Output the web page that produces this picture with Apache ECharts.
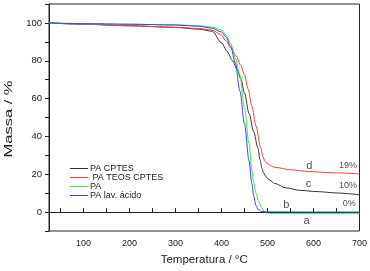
<!DOCTYPE html>
<html>
<head>
<meta charset="utf-8">
<script src="https://cdn.jsdelivr.net/npm/echarts@6/dist/echarts.min.js"></script>
<style>
  html, body { margin: 0; padding: 0; background: #fff; }
  #chart { width: 370px; height: 271px; }
</style>
</head>
<body>
<div id="chart"></div>
<script>
// temperatura (°C) / massa (%), one pair of arrays per sample
var cptesT = [25, 100, 200, 300, 350, 380, 400, 412, 424, 434, 442, 450, 460, 470, 479, 484, 488, 492, 497, 505, 515, 540, 570, 610, 650, 700];
var cptesM = [100, 99.3, 98.5, 97.6, 96.7, 95.6, 89.5, 85, 80, 75.5, 70.5, 63, 52, 42.5, 34, 27.5, 23, 20.5, 18.6, 16.8, 15.2, 12.8, 11.5, 10.8, 10.1, 9.2];

var teosT = [25, 100, 200, 300, 350, 380, 400, 410, 420, 432, 442, 450, 458, 466, 475, 485, 490, 495, 501, 515, 550, 590, 640, 700];
var teosM = [100, 99.3, 98.5, 97.7, 97.1, 96.2, 93.5, 90.4, 87, 82.5, 77.5, 72.5, 65, 56, 45.5, 34.2, 29.2, 26.8, 25.3, 23.7, 22.4, 21.4, 20.8, 20.2];

var paT = [25, 100, 200, 300, 350, 380, 400, 410, 420, 430, 440, 450, 460, 466, 470, 475, 480, 486, 492, 498, 510, 700];
var paM = [100, 99.6, 99.3, 98.9, 98.5, 97.8, 96.3, 93.5, 89, 81.5, 72.5, 55, 36, 22, 15.5, 10, 6.2, 2.6, 0.6, -0.5, -0.8, -0.9];

var acidoT = [25, 100, 200, 300, 350, 380, 400, 410, 420, 430, 440, 450, 460, 466, 470, 475, 480, 487, 500, 600, 700];
var acidoM = [100, 99.6, 99.3, 98.9, 98.3, 97.2, 95.2, 92.5, 87.5, 79, 64, 46.5, 27, 15, 8.5, 3.5, 1.3, 0.3, 0.1, 0, 0];

var names = ["PA CPTES", " PA TEOS CPTES", "PA", "PA lav. ácido"];

// curve labels and residue values
var noteText = ["d", "19%", "c", "10%", "b", "0%", "a"];
var noteT = [591, 675, 589, 675, 541, 678, 585];
var noteM = [24.2, 24.6, 14.7, 14.2, 4, 4.7, -4.6];

function pairs(t, m) {
  return t.map(function (v, i) { return [v, m[i]]; });
}

var font = "Liberation Sans, Arial, sans-serif";
var chart = echarts.init(document.getElementById("chart"));

var lineSeries = function (name, t, m, color) {
  return {
    name: name,
    type: "line",
    data: pairs(t, m),
    symbol: "none",
    smooth: 0.3,
    smoothMonotone: "x",
    lineStyle: { color: color, width: 1 },
    itemStyle: { color: color },
    animation: false
  };
};

chart.setOption({
  animation: false,
  grid: {
    left: 49, top: 4, right: 10, bottom: 37,
    show: true, borderColor: "#222", borderWidth: 1
  },
  legend: {
    data: names,
    orient: "vertical",
    left: 70,
    top: 164,
    padding: 0,
    icon: "rect",
    itemWidth: 18,
    itemHeight: 1,
    itemGap: 0,
    textStyle: { fontFamily: font, fontSize: 9, color: "#222", lineHeight: 8.5, padding: [0, 0, 0, -3] }
  },
  xAxis: {
    type: "value",
    min: 25,
    max: 700,
    splitNumber: 14,
    name: "Temperatura / °C",
    nameLocation: "middle",
    nameGap: 23,
    nameTextStyle: { fontFamily: font, fontSize: 11.5, color: "#222" },
    axisLine: { lineStyle: { color: "#222", width: 1 } },
    axisTick: { inside: true, length: 4, lineStyle: { color: "#222" } },
    axisLabel: {
      fontFamily: font, fontSize: 9, color: "#222", margin: 8,
      formatter: function (v) { return v % 100 === 0 ? String(v) : ""; }
    },
    splitLine: { show: false }
  },
  yAxis: {
    type: "value",
    min: -10,
    max: 110,
    interval: 10,
    axisLine: { show: true, lineStyle: { color: "#222", width: 1 } },
    axisTick: { show: true, length: 4, lineStyle: { color: "#222" } },
    axisLabel: {
      fontFamily: font, fontSize: 9.5, color: "#222", margin: 7,
      formatter: function (v) { return v % 20 === 0 && v >= 0 && v <= 100 ? String(v) : ""; }
    },
    splitLine: { show: false }
  },
  graphic: [{
    type: "text",
    x: 9,
    y: 119,
    rotation: Math.PI / 2,
    scaleX: 1.5,
    style: {
      text: "Massa / %",
      font: "11px " + font,
      fill: "#222",
      align: "center",
      verticalAlign: "middle"
    }
  }],
  series: [
    lineSeries(names[0], cptesT, cptesM, "#333333"),
    lineSeries(names[1], teosT, teosM, "#ff3b3b"),
    lineSeries(names[2], paT, paM, "#33e833"),
    lineSeries(names[3], acidoT, acidoM, "#3b3bff"),
    {
      name: "notes",
      type: "scatter",
      symbolSize: 0,
      silent: true,
      data: noteText.map(function (s, i) {
        return {
          name: s,
          value: [noteT[i], noteM[i]],
          // the single letters are a bit larger than the percentages
          label: { fontSize: s.length === 1 ? 11 : 9 }
        };
      }),
      label: {
        show: true,
        position: [0, 0],
        align: "center",
        verticalAlign: "middle",
        formatter: function (p) { return p.name; },
        fontFamily: font,
        color: "#222",
        fontSize: 9
      }
    }
  ]
});
</script>
</body>
</html>
